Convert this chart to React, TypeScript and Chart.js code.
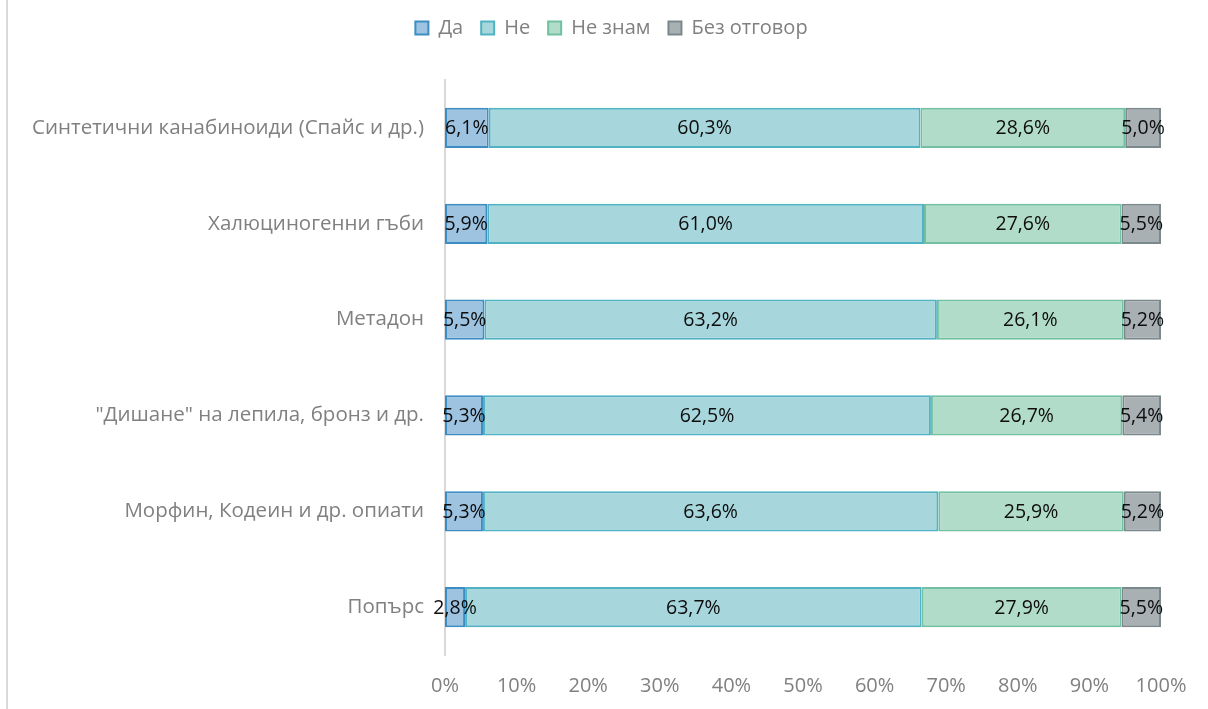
import React, { useEffect, useRef } from "react";
import { Chart, registerables } from "chart.js";

Chart.register(...registerables);

const categories = [
  "Синтетични канабиноиди (Спайс и др.)",
  "Халюциногенни гъби",
  "Метадон",
  "\"Дишане\" на лепила, бронз и др.",
  "Морфин, Кодеин и др. опиати",
  "Попърс",
];

const seriesNames = ["Да", "Не", "Не знам", "Без отговор"];

const yesValues = [6.1, 5.9, 5.5, 5.3, 5.3, 2.8];
const noValues = [60.3, 61.0, 63.2, 62.5, 63.6, 63.7];
const dontKnowValues = [28.6, 27.6, 26.1, 26.7, 25.9, 27.9];
const noAnswerValues = [5.0, 5.5, 5.2, 5.4, 5.2, 5.5];

const xTicks = [0, 10, 20, 30, 40, 50, 60, 70, 80, 90, 100];

const fills = ["#9dc3e1", "#a7d7dc", "#b2dcca", "#a9b0b3"];
const borders = ["#3b8dc4", "#4fb3c3", "#70c0a1", "#7b898d"];

const FONT = "'Open Sans', sans-serif";
const GREY = "#808080";

export default function App() {
  const ref = useRef<HTMLCanvasElement | null>(null);

  useEffect(() => {
    if (!ref.current) return;
    const raw = [yesValues, noValues, dontKnowValues, noAnswerValues];
    const totals = categories.map((_, i) => raw.reduce((s, arr) => s + arr[i], 0));

    const datasets = raw.map((arr, k) => ({
      label: seriesNames[k],
      data: arr.map((v, i) => (v / totals[i]) * 100),
      rawValues: arr,
      backgroundColor: fills[k],
      borderColor: borders[k],
      borderWidth: 2,
      borderSkipped: false,
      categoryPercentage: 1,
      barPercentage: 0.42,
    }));

    const legendTweak = {
      id: "legendTweak",
      beforeInit(chart: any) {
        const legend = chart.legend;
        if (!legend) return;
        const orig = legend.fit;
        legend.fit = function () {
          orig.call(this);
          this.height = 80;
        };
      },
      afterLayout(chart: any) {
        const legend = chart.legend;
        if (!legend) return;
        legend.left += 21;
        legend.right += 21;
      },
    };

    const dataLabels = {
      id: "dataLabels",
      afterDatasetsDraw(chart: any) {
        const ctx = chart.ctx;
        ctx.save();
        ctx.font = `19.5px ${FONT}`;
        ctx.fillStyle = "#0d0d0d";
        ctx.textAlign = "center";
        ctx.textBaseline = "middle";
        chart.data.datasets.forEach((ds: any, di: number) => {
          const meta = chart.getDatasetMeta(di);
          meta.data.forEach((el: any, i: number) => {
            const v = ds.rawValues[i];
            const txt = v.toFixed(1).replace(".", ",") + "%";
            const cx = (el.x + el.base) / 2;
            ctx.fillText(txt, cx, el.y + 1);
          });
        });
        ctx.restore();
      },
    };

    const chart = new Chart(ref.current, {
      type: "bar",
      data: { labels: categories, datasets: datasets as any },
      options: {
        indexAxis: "y",
        animation: false,
        responsive: false,
        layout: { padding: { top: 0, right: 47, bottom: 13, left: 20 } },
        plugins: {
          legend: {
            position: "top",
            labels: {
              boxWidth: 13,
              boxHeight: 13,
              padding: 18,
              color: GREY,
              font: { family: FONT, size: 20 },
            },
          },
          tooltip: { enabled: false },
        },
        scales: {
          x: {
            stacked: true,
            min: 0,
            max: 100,
            afterBuildTicks(scale: any) {
              scale.ticks = xTicks.map((v) => ({ value: v }));
            },
            afterFit(scale: any) {
              scale.height = 41;
            },
            ticks: {
              color: GREY,
              padding: 19,
              maxRotation: 0,
              autoSkip: false,
              font: { family: FONT, size: 20 },
              callback: (v: any) => v + "%",
            },
            grid: { display: false, drawTicks: false },
            border: { display: false },
          },
          y: {
            stacked: true,
            afterFit(scale: any) {
              scale.width = 425;
            },
            ticks: {
              color: GREY,
              padding: 21,
              font: { family: FONT, size: 20.5 },
            },
            grid: { display: false, drawTicks: false },
            border: { display: true, color: "#d9d9d9", width: 2 },
          },
        },
      } as any,
      plugins: [legendTweak, dataLabels],
    });
    return () => chart.destroy();
  }, []);

  return (
    <div style={{ position: "absolute", left: 0, top: 0, width: 1208, height: 709, background: "#fff" }}>
      <div style={{ position: "absolute", left: 6, top: 0, width: 2, height: 709, background: "#d9d9d9" }} />
      <canvas ref={ref} width={1208} height={709} style={{ position: "absolute", left: 0, top: 0 }} />
    </div>
  );
}
